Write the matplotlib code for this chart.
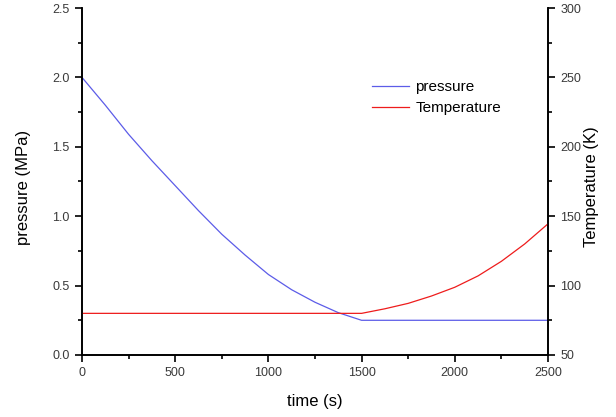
import numpy as np
import matplotlib.pyplot as plt
from matplotlib.ticker import MultipleLocator

plt.rcParams['font.family'] = ['Liberation Sans', 'DejaVu Sans']

# pressure readings (MPa) against time (s)
t_p = [0, 125, 250, 375, 500, 625, 750, 875, 1000, 1125, 1250, 1375, 1500, 2500]
pressure = [2.0, 1.80, 1.59, 1.40, 1.22, 1.04, 0.87, 0.72, 0.58, 0.47, 0.38, 0.305, 0.25, 0.25]

# temperature readings (K) against time (s)
t_T = [0, 1500, 1625, 1750, 1875, 2000, 2125, 2250, 2375, 2500]
temperature = [80, 80, 83.3, 87.2, 92.5, 98.8, 107, 117.5, 130, 144.5]

fig = plt.figure(figsize=(6.16, 4.17), dpi=100)
ax = fig.add_axes([0.1331, 0.1487, 0.7565, 0.8321])
ax2 = ax.twinx()

l1, = ax.plot(t_p, pressure, color='#5c5ce8', lw=0.9, label='pressure')
l2, = ax2.plot(t_T, temperature, color='#ee1c1c', lw=0.9, label='Temperature')

ax.set_xlim(0, 2500)
ax.set_ylim(0, 2.5)
ax2.set_ylim(50, 300)

ax.xaxis.set_major_locator(MultipleLocator(500))
ax.xaxis.set_minor_locator(MultipleLocator(250))
ax.yaxis.set_major_locator(MultipleLocator(0.5))
ax.yaxis.set_minor_locator(MultipleLocator(0.25))
ax2.yaxis.set_major_locator(MultipleLocator(50))
ax2.yaxis.set_minor_locator(MultipleLocator(25))

for a in (ax, ax2):
    a.spines['top'].set_visible(False)
    for s in a.spines.values():
        s.set_linewidth(1.2)
    a.tick_params(which='major', length=5, width=1.2, labelsize=9, pad=4,
                  labelcolor='#3a3a3a', direction='out')
    a.tick_params(which='minor', length=3, width=1.2, direction='out')

ax.set_yticklabels(['%.1f' % v for v in ax.get_yticks()])
ax.set_xlabel('time (s)', fontsize=12)
ax.set_ylabel('pressure (MPa)', fontsize=12)
ax2.set_ylabel('Temperature (K)', fontsize=12)
ax.xaxis.set_label_coords(0.5, -0.112)
ax.yaxis.set_label_coords(-0.109, 0.482)
ax2.yaxis.set_label_coords(1.077, 0.485)

ax.legend(handles=[l1, l2], loc='upper left', bbox_to_anchor=(0.61, 0.81),
          frameon=False, fontsize=11, handlelength=2.4, handletextpad=0.4,
          labelspacing=0.45, borderaxespad=0)

fig.savefig('out.png', dpi=100)
